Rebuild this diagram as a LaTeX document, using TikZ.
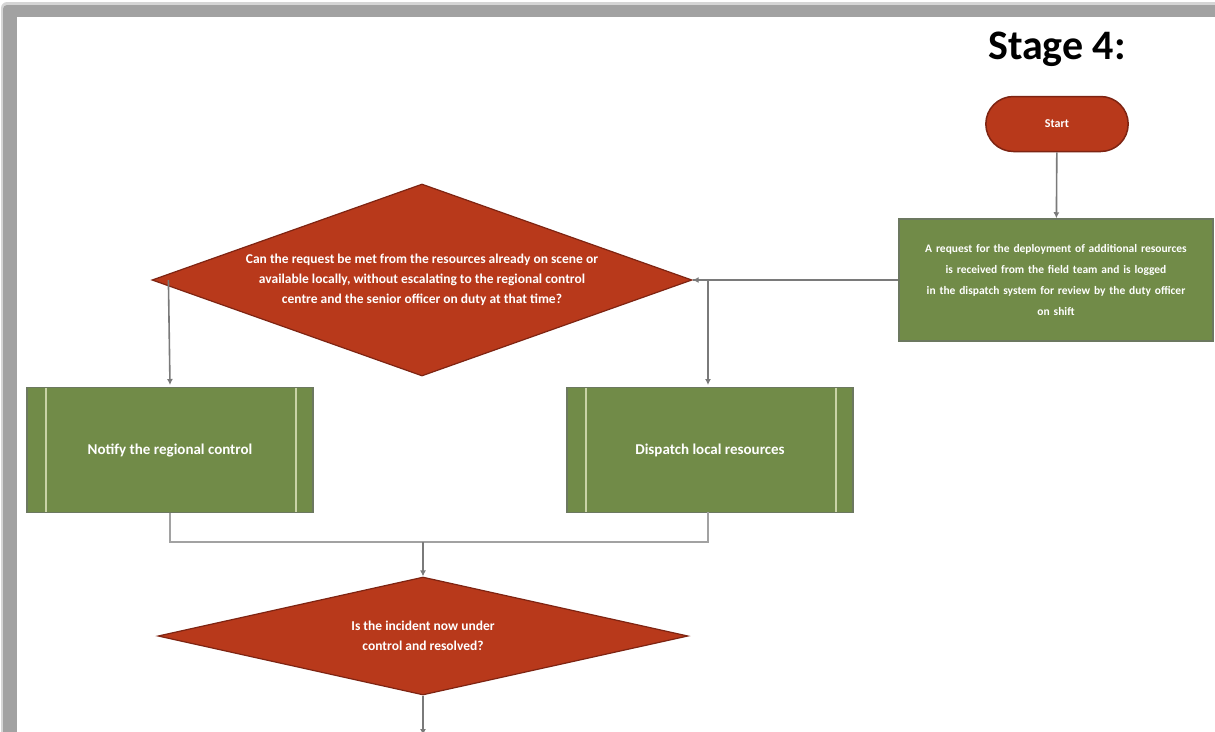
\documentclass[tikz,border=0pt]{standalone}
\usepackage{fontspec}
\setmainfont{Carlito}
\usetikzlibrary{shapes.geometric,shapes.misc,arrows.meta}

\definecolor{framegray}{HTML}{A2A2A2}
\definecolor{redfill}{HTML}{B8391B}
\definecolor{redline}{HTML}{7E2412}
\definecolor{greenfill}{HTML}{718B48}
\definecolor{greenline}{HTML}{6C7860}
\definecolor{greenbar}{HTML}{C9D3A6}
\definecolor{connector}{HTML}{7A7A7A}

\tikzset{
  conn/.style={draw=connector, line width=1.6pt, -{Latex[length=6pt,width=6pt]}},
  plainconn/.style={draw=connector!70, line width=1.6pt},
  decision/.style={diamond, draw=redline, fill=redfill, line width=1.2pt, inner sep=0pt},
  dtext/.style={text=white, align=center, font=\fontsize{13.5}{20}\selectfont\bfseries},
  terminal/.style={rounded rectangle, draw=redline, fill=redfill, line width=1.5pt,
    minimum width=149pt, minimum height=55pt, text=white, font=\fontsize{12}{14}\selectfont\bfseries},
  process/.style={rectangle, draw=greenline, fill=greenfill, line width=1.5pt,
    text=white, align=center, font=\fontsize{11.5}{21}\selectfont\bfseries},
  predef/.style={rectangle, draw=greenline, fill=greenfill, line width=1.5pt,
    minimum width=286pt, minimum height=125pt, text=white, font=\fontsize{15}{18}\selectfont\bfseries,
    path picture={
      \draw[greenbar, line width=1.4pt]
        ([xshift=19pt]path picture bounding box.north west) --
        ([xshift=19pt]path picture bounding box.south west);
      \draw[greenbar, line width=1.4pt]
        ([xshift=-17pt]path picture bounding box.north east) --
        ([xshift=-17pt]path picture bounding box.south east);
    }},
}

\begin{document}
\begin{tikzpicture}[x=1pt, y=-1pt]
  \useasboundingbox (0,0) rectangle (1215,731);

  % page frame with shadow
  \fill[framegray!45, rounded corners=6pt] (1,2) rectangle (1240,760);
  \fill[framegray, rounded corners=4pt] (3,5) rectangle (1240,760);
  \fill[white] (17,17) rectangle (1240,760);

  % heading
  \node[font=\fontsize{42}{44}\selectfont\bfseries] (title) at (1057,49) {Stage 4:};

  % start terminal
  \node[terminal] (start) at (1057,124) {Start};

  % incoming process
  \node[process, minimum width=314pt, minimum height=122pt, text width=300pt] (proc) at (1056,280)
    {A request for the deployment of additional resources\\
     is received from the field team and is logged\\
     in the dispatch system for review by the duty officer\\
     on shift};

  % first decision
  \node[decision, minimum width=540pt, minimum height=192pt] (d1) at (422,280) {};
  \node[dtext] (d1t) at (d1.center)
    {Can the request be met from the resources already on scene or\\
     available locally, without escalating to the regional control\\
     centre and the senior officer on duty at that time?};

  % outcome boxes
  \node[predef] (b1) at (170,450) {Notify the regional control};
  \node[predef] (b2) at (710,450) {Dispatch local resources};

  % second decision
  \node[decision, minimum width=530pt, minimum height=118pt] (d2) at (423,636) {};
  \node[dtext] (d2t) at (d2.center)
    {Is the incident now under\\ control and resolved?};

  % connectors
  \coordinate (merge) at (423,542);
  \coordinate (exit) at (423,735);

  \draw[conn] (start) -- (proc);
  \draw[conn] (proc.west) -- (d1.east);
  \draw[conn] (d1.east) -| (708,385);
  \draw[conn] (d1.west) ++(17,0) -- (170,385);
  \draw[plainconn] (b1.south) |- (merge);
  \draw[plainconn] (708,512) |- (merge);
  \draw[conn] (merge) -- (d2.north);
  \draw[conn] (d2.south) -- (exit);
\end{tikzpicture}
\end{document}
